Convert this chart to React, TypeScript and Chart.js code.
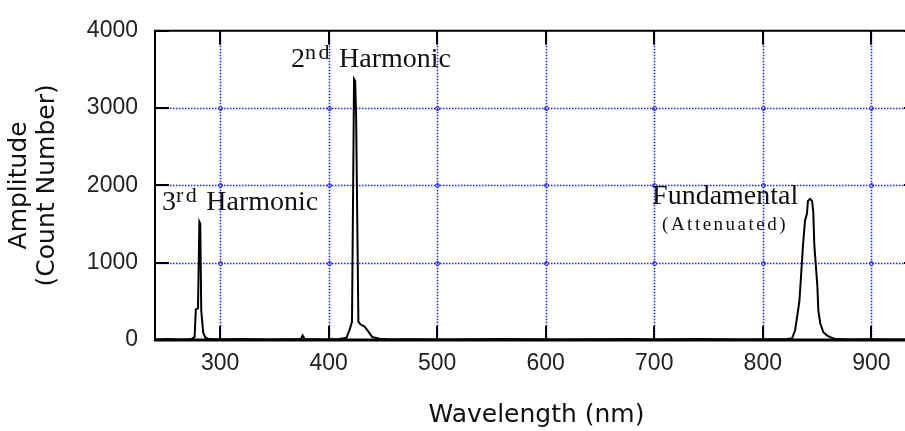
import React, { useEffect, useRef } from 'react';
import { Chart, registerables } from 'chart.js';

Chart.register(...registerables);

// Spectrometer trace: wavelength (nm) and detector counts
const wavelengthNm = [
  240, 252, 262, 270, 274, 276.5, 277.6, 279.6, 280.9, 281.7, 282.6, 284.4, 286.5, 290,
  300, 320, 345, 365, 374.5, 376, 378, 395, 410, 416.5, 419.5, 421.5, 423.4, 424.4, 425.3,
  427.4, 429.5, 433, 436.3, 440, 447, 458, 470, 510, 560, 610, 650, 680, 700, 740, 780,
  810, 822, 826.9, 829.8, 833.7, 835.2, 837.0, 838.9, 840.7, 841.6, 843.6, 845.4, 846.5,
  847.5, 850.2, 851.2, 853.0, 855.8, 859, 862.2, 866.8, 880, 900, 920, 943,
];
const countValues = [
  8, 12, 6, 10, 14, 40, 395, 410, 1530, 1505, 385, 95, 30, 12,
  8, 14, 6, 10, 12, 60, 14, 8, 12, 30, 140, 235, 3375, 3350, 2900,
  235, 200, 175, 115, 40, 15, 5, 10, 8, 12, 6, 10, 14, 8, 12, 8,
  10, 12, 20, 126, 500, 818, 1220, 1547, 1635, 1800, 1825, 1800, 1660,
  1220, 717, 377, 214, 100, 60, 38, 12, 8, 10, 6, 8,
];

const xTickValues = [300, 400, 500, 600, 700, 800, 900];
const yTickValues = [0, 1000, 2000, 3000, 4000];
const xAxisTitle = 'Wavelength (nm)';
const yAxisTitle = ['Amplitude', '(Count Number)'];

type Piece = { text: string; sup?: boolean };
type PeakLabel = { pieces: Piece[]; nm: number; count: number; size: number; spacing?: number };

// Peak captions, anchored in data units (left edge, text baseline)
const peakLabels: PeakLabel[] = [
  { pieces: [{ text: '3' }, { text: 'rd', sup: true }, { text: ' Harmonic' }], nm: 246.4, count: 1686, size: 28 },
  { pieces: [{ text: '2' }, { text: 'nd', sup: true }, { text: ' Harmonic' }], nm: 365.3, count: 3535, size: 28 },
  { pieces: [{ text: 'Fundamental' }], nm: 698, count: 1761, size: 28 },
  { pieces: [{ text: '(Attenuated)' }], nm: 707.2, count: 1421, size: 19, spacing: 2.5 },
];

const GRID_BLUE = 'rgb(35,35,250)';
const TICK_LEN = 14;

const framePlugin = {
  id: 'spectrumFrame',
  beforeDatasetsDraw(chart: any) {
    const { ctx, chartArea: a, scales } = chart;
    const xs = scales.x;
    const ys = scales.y;
    ctx.save();
    ctx.strokeStyle = GRID_BLUE;
    ctx.lineWidth = 1.6;
    ctx.setLineDash([1.5, 1.5]);
    const xPix = xTickValues.map((v) => Math.round(xs.getPixelForValue(v)) + 0.5);
    const yPix = yTickValues
      .filter((v) => v !== ys.min && v !== ys.max)
      .map((v) => Math.round(ys.getPixelForValue(v)) + 0.5);
    for (const px of xPix) {
      ctx.beginPath();
      ctx.moveTo(px, a.top);
      ctx.lineTo(px, a.bottom);
      ctx.stroke();
    }
    for (const py of yPix) {
      ctx.beginPath();
      ctx.moveTo(a.left, py);
      ctx.lineTo(a.right, py);
      ctx.stroke();
    }
    ctx.setLineDash([]);
    ctx.lineWidth = 1;
    for (const px of xPix) {
      for (const py of yPix) {
        ctx.beginPath();
        ctx.arc(px, py, 2, 0, Math.PI * 2);
        ctx.stroke();
      }
    }
    ctx.restore();
  },
  afterDatasetsDraw(chart: any) {
    const { ctx, chartArea: a, scales } = chart;
    const xs = scales.x;
    const ys = scales.y;
    ctx.save();
    ctx.strokeStyle = '#000';
    ctx.lineCap = 'butt';
    // frame
    ctx.lineWidth = 2;
    ctx.beginPath();
    ctx.moveTo(a.left, a.top);
    ctx.lineTo(a.right, a.top);
    ctx.moveTo(a.left, a.top - 1);
    ctx.lineTo(a.left, a.bottom);
    ctx.moveTo(a.right, a.top - 1);
    ctx.lineTo(a.right, a.bottom);
    ctx.stroke();
    ctx.lineWidth = 3;
    ctx.beginPath();
    ctx.moveTo(a.left - 1, a.bottom);
    ctx.lineTo(a.right + 1, a.bottom);
    ctx.stroke();
    // inward tick marks
    ctx.lineWidth = 2;
    ctx.beginPath();
    for (const v of xTickValues) {
      const px = Math.round(xs.getPixelForValue(v));
      ctx.moveTo(px, a.top);
      ctx.lineTo(px, a.top + TICK_LEN);
      ctx.moveTo(px, a.bottom);
      ctx.lineTo(px, a.bottom - TICK_LEN);
    }
    for (const v of yTickValues) {
      const py = Math.round(ys.getPixelForValue(v));
      ctx.moveTo(a.left, py);
      ctx.lineTo(a.left + TICK_LEN, py);
      ctx.moveTo(a.right, py);
      ctx.lineTo(a.right - TICK_LEN, py);
    }
    ctx.stroke();
    ctx.restore();
  },
  afterDraw(chart: any) {
    const { ctx, scales } = chart;
    const xs = scales.x;
    const ys = scales.y;
    ctx.save();
    ctx.fillStyle = '#111';
    ctx.textBaseline = 'alphabetic';
    ctx.textAlign = 'left';
    for (const lab of peakLabels) {
      let x = xs.getPixelForValue(lab.nm);
      const y = ys.getPixelForValue(lab.count);
      for (const p of lab.pieces) {
        const size = p.sup ? Math.round(lab.size * 0.8) : lab.size;
        ctx.font = `${size}px "Liberation Serif"`;
        const sp = p.sup ? 2.5 : lab.spacing || 0;
        (ctx as any).letterSpacing = `${sp}px`;
        ctx.fillText(p.text, x, p.sup ? y - 8 : y);
        x += ctx.measureText(p.text).width;
      }
      (ctx as any).letterSpacing = '0px';
    }
    ctx.restore();
  },
};

export default function App() {
  const canvasRef = useRef<HTMLCanvasElement | null>(null);

  useEffect(() => {
    const canvas = canvasRef.current;
    if (!canvas) return;
    const chart = new Chart(canvas, {
      type: 'line',
      data: {
        datasets: [
          {
            data: wavelengthNm.map((x, i) => ({ x, y: countValues[i] })),
            borderColor: '#000',
            borderWidth: 2,
            pointRadius: 0,
            tension: 0,
            fill: false,
          },
        ],
      },
      options: {
        animation: false,
        responsive: false,
        devicePixelRatio: 1,
        layout: { padding: { top: 22, right: 12, left: 0, bottom: 0 } },
        plugins: { legend: { display: false }, tooltip: { enabled: false } },
        scales: {
          x: {
            type: 'linear',
            min: 240,
            max: 943,
            afterBuildTicks: (s: any) => {
              s.ticks = xTickValues.map((v) => ({ value: v }));
            },
            afterFit: (s: any) => {
              s.height = 91;
            },
            grid: { display: false, drawTicks: false },
            border: { display: false },
            ticks: {
              padding: 10,
              autoSkip: false,
              maxRotation: 0,
              color: '#222',
              font: { family: '"Liberation Sans", Arial, sans-serif', size: 23 },
              callback: (v: any) => String(v),
            },
            title: {
              display: true,
              text: xAxisTitle,
              color: '#111',
              font: { family: '"DejaVu Sans", Verdana, sans-serif', size: 25, lineHeight: 1.15 },
              padding: { top: 0, bottom: 1 },
            },
          },
          y: {
            type: 'linear',
            min: 0,
            max: 4000,
            afterBuildTicks: (s: any) => {
              s.ticks = yTickValues.map((v) => ({ value: v }));
            },
            afterFit: (s: any) => {
              s.width = 155;
            },
            grid: { display: false, drawTicks: false },
            border: { display: false },
            ticks: {
              padding: 17,
              color: '#222',
              font: { family: '"Liberation Sans", Arial, sans-serif', size: 23 },
              callback: (v: any) => String(v),
            },
            title: {
              display: true,
              text: yAxisTitle,
              color: '#111',
              font: { family: '"DejaVu Sans", Verdana, sans-serif', size: 25, lineHeight: 1.12 },
              padding: { top: 5, bottom: 0 },
            },
          },
        },
      },
      plugins: [framePlugin],
    });
    return () => chart.destroy();
  }, []);

  return (
    <div
      style={{
        position: 'fixed',
        left: 0,
        top: 0,
        width: 905,
        height: 431,
        overflow: 'hidden',
        background: '#fff',
      }}
    >
      <canvas ref={canvasRef} width={930} height={431} style={{ width: 930, height: 431, display: 'block' }} />
    </div>
  );
}
